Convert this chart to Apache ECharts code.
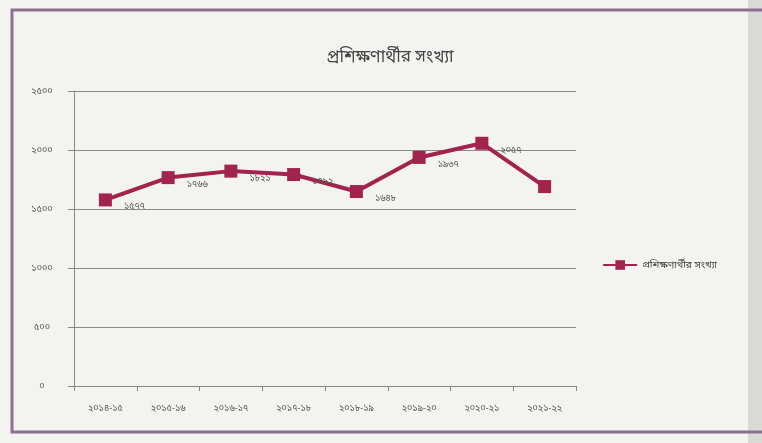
<!DOCTYPE html>
<html><head><meta charset="utf-8">
<script src="https://cdn.jsdelivr.net/npm/echarts@6/dist/echarts.min.js"></script>
<style>html,body{margin:0;padding:0;background:#f2f2ee}#c{width:762px;height:443px}</style>
</head><body><div id="c"></div>
<script>
const categories = ['২০১৪-১৫','২০১৫-১৬','২০১৬-১৭','২০১৭-১৮','২০১৮-১৯','২০১৯-২০','২০২০-২১','২০২১-২২'];
const values = [1577, 1766, 1821, 1792, 1648, 1937, 2057, 1690];
const valueLabels = ['১৫৭৭','১৭৬৬','১৮২১','১৭৯২','১৬৪৮','১৯৩৭','২০৫৭',''];
const yTickLabels = {0:'০',500:'৫০০',1000:'১০০০',1500:'১৫০০',2000:'২০০০',2500:'২৫০০'};
const seriesName = 'প্রশিক্ষণার্থীর সংখ্যা';
const titleText = 'প্রশিক্ষণার্থীর সংখ্যা';
const font = '"Noto Sans", "Noto Sans Bengali", "Lohit Bengali", sans-serif';
const chart = echarts.init(document.getElementById('c'), null, {renderer:'canvas'});
chart.setOption({
  backgroundColor: '#f3f3ef',
  animation: false,
  graphic: [
    {type:'rect', shape:{x:12,y:10,width:760,height:422}, style:{fill:'none', stroke:'#8e6f92', lineWidth:3}, z:-1},
    {type:'rect', shape:{x:748,y:0,width:14,height:443}, style:{fill:'#d9d9d6'}, z:-2}
  ],
  title: {text: titleText, left: 385, top: 44, textAlign:'center',
    textStyle:{fontFamily:font, fontSize:17, fontWeight:'normal', color:'#444'}},
  legend: {data:[seriesName], right: 40, top: 255, orient:'vertical', itemWidth:34, itemHeight:12,
    textStyle:{fontFamily:font, fontSize:10, color:'#444'}},
  grid: {left: 74, right: 186, top: 91, bottom: 57},
  xAxis: {type:'category', data: categories, boundaryGap:true,
    axisLine:{lineStyle:{color:'#888'}}, axisTick:{show:true, lineStyle:{color:'#888'}},
    axisLabel:{fontFamily:font, fontSize:9, color:'#555', margin:18}},
  yAxis: {type:'value', min:0, max:2500, interval:500,
    axisLine:{show:true, lineStyle:{color:'#888'}}, axisTick:{show:true, length:6, lineStyle:{color:'#888'}},
    splitLine:{lineStyle:{color:'#8a8a8a', width:1}},
    axisLabel:{fontFamily:font, fontSize:9, color:'#555', margin:32, align:'center', formatter:v=>yTickLabels[v]}},
  series: [{
    name: seriesName, type:'line', data: values,
    symbol:'rect', symbolSize:13,
    lineStyle:{color:'#a3234f', width:4},
    itemStyle:{color:'#a3234f'},
    label:{show:true, position:'right', distance:12, offset:[0,7], fontFamily:font, fontSize:9, color:'#555',
      formatter:p=>valueLabels[p.dataIndex]}
  }]
});
</script></body></html>
